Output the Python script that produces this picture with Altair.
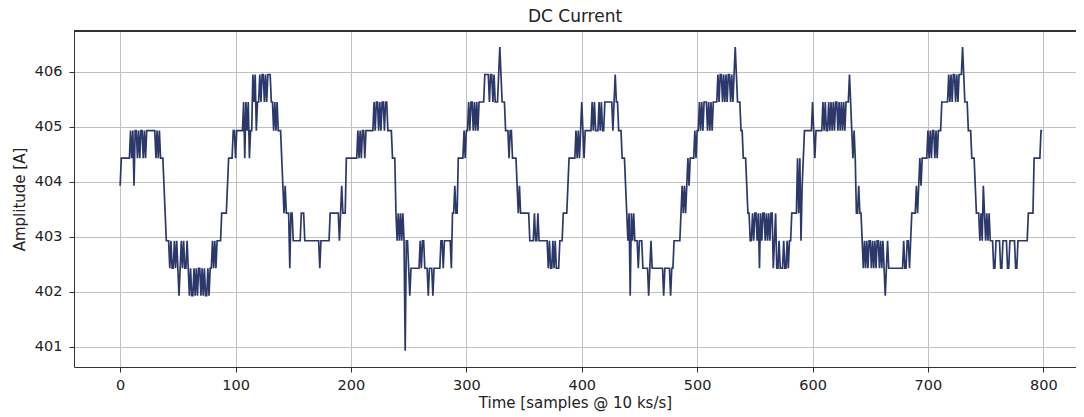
import altair as alt
import pandas as pd

# Quantised DC current levels, as (level [A], number of samples) runs
runs_cycle1 = [
    (403.93, 1), (404.43, 8),
    (404.93, 1), (404.43, 1), (404.93, 1), (403.93, 1), (404.93, 2), (404.43, 1), (404.93, 1), (404.43, 1),
    (404.93, 2), (404.43, 1), (404.93, 1), (404.43, 1), (404.93, 1),
    (404.93, 7),
    (404.43, 1), (404.93, 1), (404.43, 1), (404.93, 1), (404.43, 1),
    (404.43, 2), (403.93, 1), (403.43, 1), (402.93, 3),
    (402.43, 1), (402.93, 1), (402.43, 2), (402.93, 1), (402.43, 1), (402.93, 1), (402.43, 1), (401.93, 1),
    (402.43, 1), (402.93, 1), (402.43, 1), (402.93, 1), (402.43, 2), (402.93, 1), (402.43, 1),
    (401.93, 1), (402.43, 1), (401.93, 2), (402.43, 1), (401.93, 1), (402.43, 1), (401.93, 1), (402.43, 2),
    (401.93, 1), (402.43, 1), (401.93, 1), (402.43, 1), (401.93, 2), (402.43, 1), (401.93, 1), (402.43, 2),
    (402.93, 1), (402.43, 1), (402.93, 1), (402.43, 1), (402.93, 4),
    (403.43, 5), (403.93, 1), (404.43, 4),
]
runs_cycle2 = [
    (404.93, 2), (404.43, 1), (404.93, 6), (405.45, 1), (404.43, 1), (405.45, 1), (404.93, 1), (405.45, 1),
    (404.43, 1), (404.93, 2), (405.95, 1), (405.45, 1), (405.95, 1), (404.93, 1), (405.45, 2), (405.95, 1),
    (405.45, 1), (405.95, 2), (405.45, 1), (405.95, 1), (405.45, 1), (405.95, 3), (405.45, 2), (404.93, 1),
    (405.45, 1), (404.93, 1), (405.45, 1), (404.93, 3),
    (404.43, 1), (403.93, 1), (403.43, 1), (403.93, 1), (403.43, 3), (402.43, 1), (403.43, 2), (402.93, 7),
    (403.43, 3), (402.93, 13), (402.43, 1), (402.93, 8), (403.43, 8), (402.93, 1), (403.43, 1), (403.93, 1),
    (403.43, 3),
]
runs_cycle3 = [
    (404.43, 10), (404.93, 1), (404.43, 1), (404.93, 1), (404.43, 1), (404.93, 2), (404.43, 1), (404.93, 1),
    (404.93, 6),
    (405.45, 1), (404.93, 1), (405.45, 2), (404.93, 1), (405.45, 1), (404.93, 1), (405.45, 2), (404.93, 1),
    (405.45, 2), (404.93, 1),
    (404.93, 3), (404.43, 3), (403.43, 1), (402.93, 1), (403.43, 1), (402.93, 1), (403.43, 1), (402.93, 1),
    (403.43, 1), (402.93, 1), (400.93, 1), (402.93, 2), (402.43, 1), (401.93, 1), (402.43, 8), (402.93, 1),
    (402.43, 1), (402.93, 2), (402.43, 3), (401.93, 1), (402.43, 3), (401.93, 1), (402.43, 6), (402.93, 2),
    (402.43, 1), (402.93, 6), (402.43, 1), (403.43, 2), (403.93, 1), (403.43, 2), (404.43, 5),
]
runs_cycle4 = [
    (404.93, 1), (404.43, 1), (404.93, 2), (405.45, 1), (404.93, 1), (405.45, 2), (404.93, 1), (405.45, 1),
    (404.93, 1), (405.45, 1), (404.93, 1), (405.45, 5), (405.95, 4), (405.45, 1), (405.95, 2), (405.45, 1),
    (405.95, 1), (405.45, 3), (405.95, 1), (406.45, 1), (405.95, 1), (405.45, 3), (404.93, 3), (404.43, 1),
    (404.93, 2), (404.43, 4), (403.93, 1), (403.43, 1), (403.93, 1), (403.43, 8), (402.93, 4), (403.43, 1),
    (402.93, 2), (403.43, 1), (402.93, 8), (402.43, 1), (402.93, 1), (402.43, 2), (402.93, 1), (402.43, 1),
    (402.93, 1), (402.43, 3), (402.93, 3), (403.43, 4), (403.93, 1), (404.43, 6),
]
runs_cycle5 = [
    (404.93, 1), (404.43, 1), (404.93, 1), (404.43, 1), (404.93, 1), (405.45, 1), (404.93, 1), (404.43, 1),
    (404.93, 6), (405.45, 1), (404.93, 1), (405.45, 1), (404.93, 3), (405.45, 1), (404.93, 1), (405.45, 1),
    (404.93, 2), (405.45, 7), (404.93, 1), (405.45, 1), (405.95, 1), (405.45, 2), (404.93, 3), (404.43, 3),
    (403.93, 1), (403.43, 1), (402.93, 1), (403.43, 1), (401.93, 1), (403.43, 1), (402.93, 1), (403.43, 1),
    (402.93, 3), (402.43, 1), (402.93, 3), (402.43, 5), (401.93, 1), (402.43, 1), (402.93, 1), (402.43, 10),
    (401.93, 1), (402.43, 5), (401.93, 1), (402.43, 2), (402.93, 6), (403.43, 1), (403.93, 1), (403.43, 1),
    (403.93, 1), (403.43, 1), (403.93, 1), (404.43, 1), (403.93, 1), (404.43, 4),
]
runs_cycle6 = [
    (404.93, 1), (404.43, 1), (404.93, 2), (405.45, 1), (404.93, 1), (405.45, 1), (404.93, 1), (405.45, 3),
    (404.93, 1), (405.45, 1), (404.93, 1), (405.45, 1), (404.93, 1), (405.45, 4), (405.95, 1), (405.45, 1),
    (405.95, 2), (405.45, 1), (405.95, 1), (405.45, 1), (405.95, 1), (405.45, 1), (405.95, 2), (405.45, 1),
    (405.95, 1), (405.45, 1), (405.95, 1), (406.45, 1), (405.95, 1), (405.45, 3), (404.93, 2), (404.43, 3),
    (403.93, 1), (403.43, 2), (402.93, 2),
    (403.43, 1), (402.93, 1), (403.43, 2), (402.93, 1), (403.43, 1), (402.43, 1), (403.43, 1), (402.93, 1),
    (403.43, 2), (402.93, 1), (403.43, 1), (402.93, 1), (403.43, 1), (402.93, 1), (403.43, 2), (402.43, 1),
    (402.93, 1), (403.43, 1), (402.43, 2), (402.93, 1), (402.43, 3), (402.93, 1), (402.43, 2), (402.93, 1),
    (402.43, 1), (402.93, 2), (403.43, 5), (404.43, 1), (403.43, 1), (404.43, 1), (402.93, 1), (403.93, 1),
    (404.43, 1),
]
runs_cycle7 = [
    (404.93, 7), (405.45, 1), (404.93, 1), (404.43, 1), (404.93, 6), (405.45, 1), (404.93, 1), (405.45, 1),
    (404.93, 2), (405.45, 1), (404.93, 1), (405.45, 1), (404.93, 1), (405.45, 1), (404.93, 1), (405.45, 2),
    (404.93, 1), (405.45, 1), (404.93, 1), (405.45, 1), (404.93, 1), (405.45, 1), (404.93, 1), (405.45, 3),
    (405.95, 1), (405.45, 1), (404.93, 1), (404.43, 1), (404.93, 1), (404.43, 1), (403.43, 2), (403.93, 1),
    (403.43, 2), (402.93, 1),
    (402.43, 1), (402.93, 1), (402.43, 1), (402.93, 1), (402.43, 1), (402.93, 2), (402.43, 1), (402.93, 1),
    (402.43, 1), (402.93, 1), (402.43, 1), (402.93, 2), (402.43, 1), (402.93, 1), (402.43, 1), (402.93, 1),
    (402.43, 1), (401.93, 1), (402.43, 1), (402.93, 1), (402.43, 13), (402.93, 1), (402.43, 2), (402.93, 2),
    (402.43, 1), (402.93, 1), (403.43, 4), (403.93, 1), (403.43, 1), (403.93, 1), (404.43, 1), (403.93, 1),
    (404.43, 5),
]
runs_cycle8 = [
    (404.93, 1), (404.43, 1), (404.93, 1), (404.43, 1), (404.93, 2), (404.43, 1), (404.93, 1), (404.43, 1),
    (404.93, 3), (405.45, 6), (405.95, 1), (405.45, 1), (405.95, 1), (405.45, 1), (405.95, 2), (405.45, 1),
    (405.95, 1), (405.45, 1), (405.95, 3), (406.45, 1), (405.95, 1), (405.45, 3), (404.93, 3), (404.43, 3),
    (403.93, 1), (403.43, 3), (402.93, 1), (403.43, 1), (402.93, 1), (403.93, 1), (403.43, 1), (402.93, 1),
    (403.43, 1), (402.93, 1), (403.43, 1), (402.93, 3), (402.43, 2), (402.93, 4), (402.43, 2), (402.93, 4),
    (402.43, 2), (402.93, 5), (402.43, 2), (402.93, 9), (403.43, 5), (404.43, 6), (404.93, 2),
]

x_ticks = [0, 100, 200, 300, 400, 500, 600, 700, 800]
y_ticks = [401, 402, 403, 404, 405, 406]

amps = []
for runs in [runs_cycle1, runs_cycle2, runs_cycle3, runs_cycle4,
             runs_cycle5, runs_cycle6, runs_cycle7, runs_cycle8]:
    for level, count in runs:
        amps.extend([level] * count)

df = pd.DataFrame({"sample": list(range(len(amps))), "amp": amps})

FONT = "DejaVu Sans"
PLOT_W = 1002
PLOT_H = 336

line = alt.Chart(df).mark_line(color="#2c386a", strokeWidth=1.7).encode(
    x=alt.X(
        "sample:Q",
        scale=alt.Scale(domain=[-40, 828.3], nice=False, zero=False),
        axis=alt.Axis(values=x_ticks, format="d", title="Time [samples @ 10 ks/s]",
                      titlePadding=4, labelPadding=6),
    ),
    y=alt.Y(
        "amp:Q",
        scale=alt.Scale(domain=[400.636, 406.74], nice=False, zero=False),
        axis=alt.Axis(values=y_ticks, format="d", title="Amplitude [A]",
                      titlePadding=7, labelPadding=7),
    ),
)

# top spine of the frame (the right spine lies outside the reference crop)
top_spine = alt.Chart(df).mark_rule(color="#333333", strokeWidth=1).encode(
    x=alt.value(0), x2=alt.value(PLOT_W), y=alt.value(0)
)

chart = alt.layer(line, top_spine).properties(
    width=PLOT_W,
    height=PLOT_H,
    title=alt.TitleParams("DC Current", font=FONT, fontSize=17, fontWeight="normal",
                          color="#222222", offset=5, anchor="middle"),
    autosize=alt.AutoSizeParams(type="none"),
    padding={"left": 66, "top": 23, "right": 0, "bottom": 50},
).configure_axis(
    labelFont=FONT, labelFontSize=14.5, labelColor="#222222",
    titleFont=FONT, titleFontSize=15, titleFontWeight="normal", titleColor="#222222",
    grid=True, gridColor="#c0c0c0", gridWidth=1,
    domainColor="#333333", domainWidth=1,
    tickColor="#333333", tickSize=5, tickWidth=1,
).configure_view(
    strokeWidth=0,
)

chart.save("out.html", embed_options={"renderer": "svg", "actions": False})
